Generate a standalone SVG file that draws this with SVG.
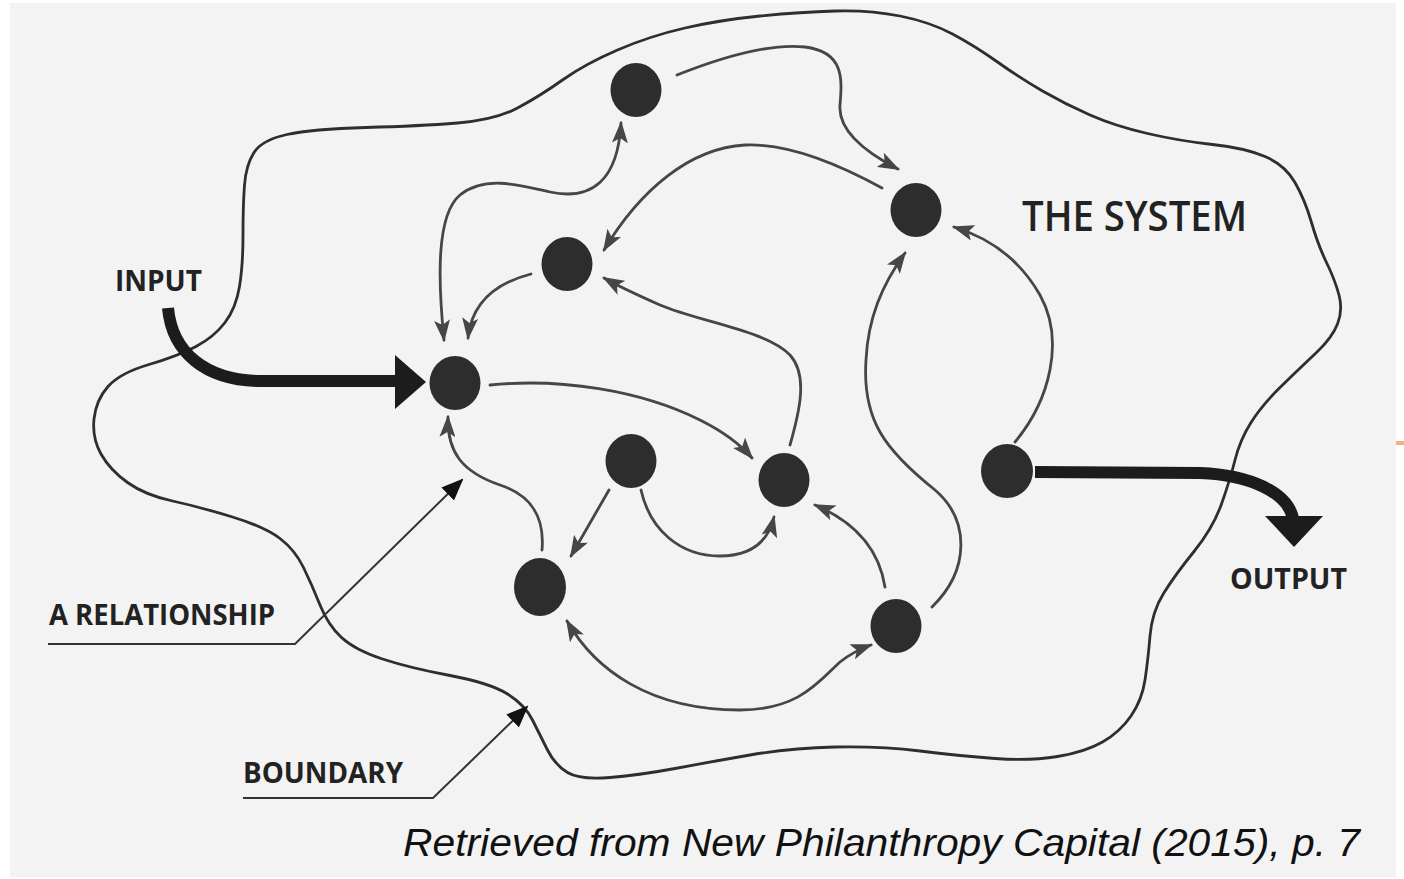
<svg xmlns="http://www.w3.org/2000/svg" width="1404" height="879" viewBox="0 0 1404 879">
<defs>
<style>
.bg{fill:#f3f3f3}
.node{fill:#2d2d2d}
.conn{fill:none;stroke:#464646;stroke-width:2.8;stroke-linecap:round}
.bound{fill:none;stroke:#2e2e2e;stroke-width:2.8}
.thick{fill:none;stroke:#1c1c1c;stroke-width:12}
.lead{fill:none;stroke:#333;stroke-width:2}
.lbl{font-family:"Open Sans","Liberation Sans",sans-serif;font-weight:700;fill:#222}
.cap{font-family:"Liberation Sans",Arial,sans-serif;font-style:italic;fill:#111}
</style>
<marker id="ah" viewBox="0 0 22 16" refX="20" refY="8" markerWidth="22" markerHeight="16" markerUnits="userSpaceOnUse" orient="auto-start-reverse">
<path d="M0,0 L22,8 L0,16 L5,8 z" fill="#464646"/>
</marker>
<marker id="ahk" viewBox="0 0 22 18" refX="20" refY="9" markerWidth="22" markerHeight="18" markerUnits="userSpaceOnUse" orient="auto">
<path d="M0,0 L22,9 L0,18 z" fill="#111"/>
</marker>
</defs>
<rect x="0" y="0" width="1404" height="879" fill="#ffffff"/>
<rect class="bg" x="10" y="3" width="1386" height="874"/>
<rect x="1396" y="441" width="8" height="4" fill="#f7ad85"/>

<g id="boundary">
<path class="bound" d="M244.5,185 Q246,165 254,152.5 Q262,140 287,134.5 Q312,129 366,127.5 Q420,126 457.5,123 Q495,120 517.5,108 Q540,96 562.5,80 Q585,64 617.5,50 Q650,36 685,28 Q720,20 760,16 Q800,12 835,11 Q870,10 900,16 Q930,22 952.5,34 Q975,46 997.5,62 Q1020,78 1042.5,91 Q1065,104 1090,115 Q1115,126 1147.5,133.5 Q1180,141 1212.5,144.5 Q1245,148 1265,156.5 Q1285,165 1295,182.5 Q1305,200 1311.5,222.5 Q1318,245 1326.5,262.5 Q1335,280 1339,295 Q1343,310 1337.5,324 Q1332,338 1316,353 Q1300,368 1281,386.5 Q1262,405 1251,422.5 Q1240,440 1235,460 Q1230,480 1221.5,504 Q1213,528 1194,551.5 Q1175,575 1163.5,593.5 Q1152,612 1150,636 Q1148,660 1145,680 Q1142,700 1131,716 Q1120,732 1102.5,742 Q1085,752 1057.5,756.5 Q1030,761 995,758.5 Q960,756 920,751 Q880,746 835,747 Q790,748 750,755 Q710,762 675,768.5 Q640,775 610,777.5 Q580,780 567.5,772.5 Q555,765 547.5,750 Q540,735 532.5,720 Q525,705 507.5,694 Q490,683 450,675.5 Q410,668 382.5,659 Q355,650 341.5,637.5 Q328,625 320,605 Q312,585 303.5,567.5 Q295,550 280,538.5 Q265,527 232.5,517 Q200,507 172.5,501 Q145,495 127.5,482.5 Q110,470 101,454 Q92,438 94,419 Q96,400 108,386.5 Q120,373 149,364.5 Q178,356 196,346.5 Q214,337 225,322.5 Q236,308 239.5,286.5 Q243,265 243,235 Q243,205 244.5,185 Z"/>
</g>

<g id="connectors">
<path class="conn" marker-end="url(#ah)" d="M677,75 C720,58 770,43 805,47 C845,52 842,80 840,105 C838,130 865,152 898,169"/>
<path class="conn" marker-end="url(#ah)" d="M882,188 C840,165 790,143 745,145 C690,148 640,190 604,250"/>
<path class="conn" marker-start="url(#ah)" marker-end="url(#ah)" d="M444,340 C438,280 436,215 460,195 C485,175 520,185 550,192 C592,201 618,180 621,123"/>
<path class="conn" marker-end="url(#ah)" d="M531,274 C500,282 472,300 468,338"/>
<path class="conn" marker-end="url(#ah)" d="M790,445 C800,410 808,375 790,355 C765,330 700,322 660,305 C635,294 620,287 604,278"/>
<path class="conn" marker-end="url(#ah)" d="M490,385 C560,378 640,390 700,420 C722,431 740,444 752,458"/>
<path class="conn" marker-end="url(#ah)" d="M542,550 C545,515 530,495 500,485 C462,472 447,452 448,417"/>
<path class="conn" marker-end="url(#ah)" d="M609,490 L571,556"/>
<path class="conn" marker-end="url(#ah)" d="M641,490 C650,530 680,556 720,556 C750,556 768,542 774,517"/>
<path class="conn" marker-end="url(#ah)" d="M885,587 C880,555 862,525 815,505"/>
<path class="conn" marker-start="url(#ah)" marker-end="url(#ah)" d="M567,621 C595,670 650,710 740,710 C800,710 820,680 840,662 C850,654 860,649 871,645"/>
<path class="conn" marker-end="url(#ah)" d="M932,607 C970,570 970,520 935,490 C885,450 862,420 866,360 C868,318 882,285 905,253"/>
<path class="conn" marker-end="url(#ah)" d="M1015,442 C1050,400 1065,340 1040,295 C1020,260 990,238 954,227"/>
<path class="thick" d="M168,308 C172,352 205,381 262,381 L400,381"/>
<polygon points="395,355 426,382 395,409" fill="#1c1c1c"/>
<path class="thick" d="M1035,472 L1200,473 C1250,475 1287,492 1293,518"/>
<polygon points="1265,516 1323,516 1294,547" fill="#1c1c1c"/>
<polyline class="lead" marker-end="url(#ahk)" points="48,644 295,644 462,480"/>
<polyline class="lead" marker-end="url(#ahk)" points="243,798 433,798 527,707"/>
</g>

<g id="node-a"><ellipse class="node" cx="636" cy="90" rx="25.5" ry="27"/></g>
<g id="node-b"><ellipse class="node" cx="916" cy="210" rx="25.5" ry="27"/></g>
<g id="node-c"><ellipse class="node" cx="567" cy="264" rx="25.5" ry="27"/></g>
<g id="node-d"><ellipse class="node" cx="455" cy="383" rx="25.5" ry="27"/></g>
<g id="node-e"><ellipse class="node" cx="631" cy="461" rx="25.5" ry="27"/></g>
<g id="node-f"><ellipse class="node" cx="784" cy="480" rx="25.5" ry="27"/></g>
<g id="node-g"><ellipse class="node" cx="540" cy="587" rx="26" ry="29"/></g>
<g id="node-h"><ellipse class="node" cx="896" cy="626" rx="25.5" ry="27"/></g>
<g id="node-i"><ellipse class="node" cx="1007" cy="471" rx="26" ry="27"/></g>

<g id="labels">
<text class="lbl" x="115" y="291" font-size="29" textLength="87" lengthAdjust="spacingAndGlyphs">INPUT</text>
<text class="lbl" x="1022" y="231" font-size="42" textLength="225" lengthAdjust="spacingAndGlyphs" style="font-weight:600">THE SYSTEM</text>
<text class="lbl" x="49" y="625" font-size="29" textLength="226" lengthAdjust="spacingAndGlyphs">A RELATIONSHIP</text>
<text class="lbl" x="243" y="783" font-size="29" textLength="160" lengthAdjust="spacingAndGlyphs">BOUNDARY</text>
<text class="lbl" x="1230" y="589" font-size="29" textLength="117" lengthAdjust="spacingAndGlyphs">OUTPUT</text>
<text class="cap" x="403" y="856" font-size="38" textLength="957" lengthAdjust="spacingAndGlyphs">Retrieved from New Philanthropy Capital (2015), p. 7</text>
</g>
</svg>
